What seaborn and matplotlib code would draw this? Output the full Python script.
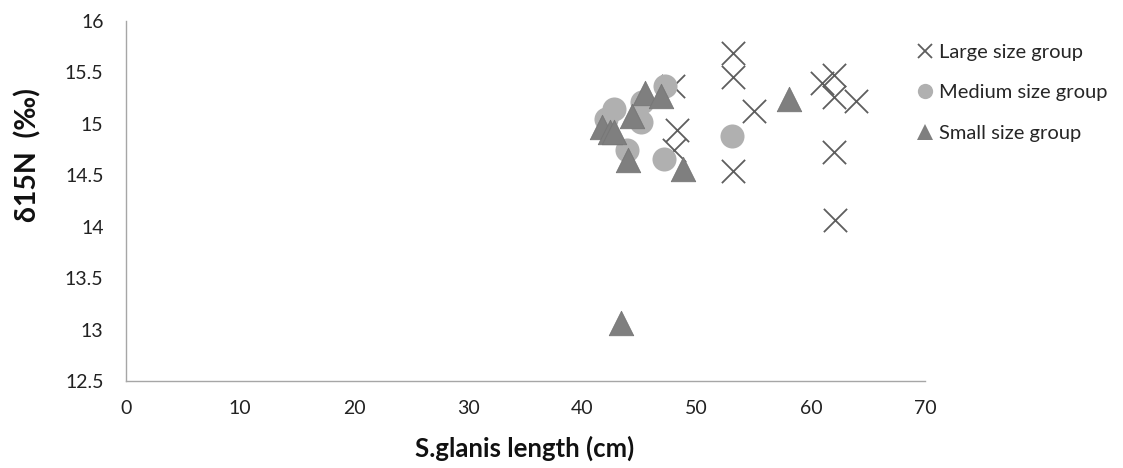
import matplotlib
matplotlib.use("Agg")
import matplotlib.pyplot as plt
from matplotlib.lines import Line2D
import numpy as np
import pandas as pd
import seaborn as sns

# Body length (cm) and delta-15N (per mil) for each size group
large_len = [47.9, 48.3, 48.0, 53.15, 53.15, 55.05, 53.15, 61.0, 62.0, 62.0, 64.0, 62.0, 62.1]
large_d15n = [15.37, 14.94, 14.75, 15.69, 15.45, 15.12, 14.54, 15.40, 15.47, 15.26, 15.22, 14.73, 14.06]

medium_len = [47.2, 45.2, 45.1, 42.8, 42.1, 43.9, 47.1, 53.1]
medium_d15n = [15.37, 15.21, 15.02, 15.14, 15.05, 14.75, 14.66, 14.88]

small_len = [45.5, 46.9, 44.3, 41.7, 42.4, 42.8, 44.0, 48.8, 58.1, 43.4]
small_d15n = [15.30, 15.27, 15.08, 14.97, 14.92, 14.92, 14.65, 14.56, 15.24, 13.06]

groups = ["Large size group", "Medium size group", "Small size group"]
x_ticks = [0, 10, 20, 30, 40, 50, 60, 70]
y_ticks = [12.5, 13, 13.5, 14, 14.5, 15, 15.5, 16]

df = pd.concat([
    pd.DataFrame({"length": large_len, "d15n": large_d15n, "group": groups[0]}),
    pd.DataFrame({"length": medium_len, "d15n": medium_d15n, "group": groups[1]}),
    pd.DataFrame({"length": small_len, "d15n": small_d15n, "group": groups[2]}),
])

sns.set_style("white")
plt.rcParams["font.family"] = ["Lato", "DejaVu Sans"]

fig = plt.figure(figsize=(11.23, 4.68), dpi=100)
ax = fig.add_axes([125.7 / 1123, 1 - 381 / 468, (925 - 125.7) / 1123, (381 - 20.9) / 468])

c_large = "#5e5e5e"
c_medium = "#b0b0b0"
c_small = "#7f7f7f"

sns.scatterplot(data=df[df.group == groups[0]], x="length", y="d15n", marker="x",
                s=280, color=c_large, linewidth=1.3, legend=False, ax=ax, zorder=3)
sns.scatterplot(data=df[df.group == groups[1]], x="length", y="d15n", marker="o",
                s=300, color=c_medium, linewidth=0, legend=False, ax=ax, zorder=4)
sns.scatterplot(data=df[df.group == groups[2]], x="length", y="d15n", marker="^",
                s=310, color=c_small, edgecolor="#767676", linewidth=0.6, legend=False,
                ax=ax, zorder=5)

ax.set_xlim(0, 70)
ax.set_ylim(12.5, 16)
ax.set_xticks(x_ticks)
ax.set_yticks(y_ticks)
ax.set_xticklabels([f"{v:g}" for v in x_ticks])
ax.set_yticklabels([f"{v:g}" for v in y_ticks])
ax.tick_params(axis="both", length=0, labelsize=14, colors="#222222")
ax.tick_params(axis="y", pad=16)
ax.tick_params(axis="x", pad=14)
for side in ["top", "right"]:
    ax.spines[side].set_visible(False)
for side in ["left", "bottom"]:
    ax.spines[side].set_color("#a6a6a6")
    ax.spines[side].set_linewidth(1.0)
ax.grid(False)
ax.set_xlabel("")
ax.set_ylabel("")

fig.text(525 / 1123, 1 - 448 / 468, "S.glanis length (cm)", ha="center", va="center",
         fontsize=18.5, fontweight="bold", color="#111111")
fig.text(28 / 1123, 1 - 155 / 468, "\u03b415N  (\u2030)", ha="center", va="center",
         rotation=90, fontsize=20.5, fontweight="bold", color="#111111",
         family=["Lato", "DejaVu Sans"])

handles = [
    Line2D([], [], marker="x", linestyle="none", color=c_large, markersize=10,
           markeredgewidth=1.3),
    Line2D([], [], marker="o", linestyle="none", color=c_medium, markersize=11,
           markeredgewidth=0),
    Line2D([], [], marker="^", linestyle="none", color=c_small, markersize=11,
           markeredgewidth=0),
]
fig.legend(handles, groups, loc="upper left",
           bbox_to_anchor=(917 / 1123, 1 - 44 / 468), frameon=False,
           fontsize=14.5, handlelength=0.8, handletextpad=0.3, labelspacing=1.15,
           borderaxespad=0, borderpad=0)

fig.savefig("out.png", dpi=100, facecolor="white")
